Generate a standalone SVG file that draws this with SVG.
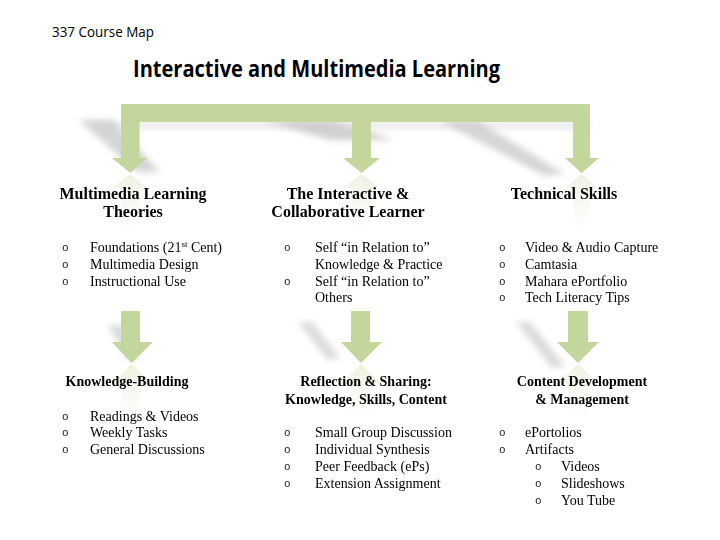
<svg xmlns="http://www.w3.org/2000/svg" width="720" height="540" viewBox="0 0 720 540">
<defs>
<style>
.bg{fill:#ffffff}
.ttl{font-family:"Open Sans","Liberation Sans",sans-serif;fill:#000}
.h{font-family:"Liberation Serif","Times New Roman",serif;font-weight:bold;fill:#000}
.b{font-family:"Liberation Serif","Times New Roman",serif;font-size:14px;fill:#000}
.o{font-family:"Liberation Mono","Courier New",monospace;font-size:11px;fill:#222}
.arrow{fill:#c3d69b}
.shadow{fill:#8c8c8c;filter:url(#blur)}
.refl{fill:url(#reflGrad)}
</style>
<filter id="blur" x="-30%" y="-30%" width="160%" height="160%">
<feGaussianBlur stdDeviation="3"/>
</filter>
<linearGradient id="reflGrad" x1="0" y1="0" x2="0" y2="1">
<stop offset="0" stop-color="#c3d69b" stop-opacity="0.3"/>
<stop offset="1" stop-color="#c3d69b" stop-opacity="0"/>
</linearGradient>
</defs>
<rect class="bg" x="0" y="0" width="720" height="540"/>

<g id="title">
<text class="ttl" x="52" y="37" font-size="15" textLength="102" lengthAdjust="spacingAndGlyphs">337 Course Map</text>
<text class="ttl" x="133" y="77" font-size="23" font-weight="bold" textLength="367" lengthAdjust="spacingAndGlyphs">Interactive and Multimedia Learning</text>
</g>

<g id="connectors">
<g id="shadows" opacity="0.45">
<polygon class="shadow" points="90,122 590,122 590,129 100,129" opacity="0.4"/>
<polygon class="shadow" points="78,120 112,120 160,172 138,172" opacity="0.8"/>
<polygon class="shadow" points="262,120 330,120 395,140 330,140" opacity="0.9"/>
<polygon class="shadow" points="440,121 478,121 565,174 545,176" opacity="0.8"/>
<polygon class="shadow" points="108,325 122,325 140,358 128,360" opacity="0.7"/>
<polygon class="shadow" points="298,322 312,322 340,358 328,360" opacity="0.7"/>
<polygon class="shadow" points="516,322 530,322 565,366 552,368" opacity="0.7"/>
</g>
<g id="reflections">
<path class="refl" d="M112,188 L130.5,174 L147,188 L139.5,188 L139.5,228 L121,228 L121,188 Z"/>
<path class="refl" d="M343,188 L361.5,174 L380,188 L371,188 L371,228 L352,228 L352,188 Z"/>
<path class="refl" d="M565,188 L581.5,174 L599,188 L590,188 L590,228 L573,228 L573,188 Z"/>
<path class="refl" d="M112,384 L131.5,364 L153,384 L140,384 L140,418 L121,418 L121,384 Z"/>
<path class="refl" d="M341,384 L361,364 L382,384 L370,384 L370,418 L351,418 L351,384 Z"/>
<path class="refl" d="M557,384 L578,364 L599,384 L588,384 L588,418 L568,418 L568,384 Z"/>
</g>
<path id="main-arrow" class="arrow" d="M121,104 L590,104 L590,158 L599,158 L581.5,173 L565,158 L573,158 L573,122 L371,122 L371,158 L380,158 L361.5,173 L343,158 L352,158 L352,122 L139.5,122 L139.5,158 L147,158 L130.5,173 L112,158 L121,158 Z"/>
<path id="arrow-left" class="arrow" d="M121,311 L140,311 L140,342 L153,342 L131.5,363 L112,342 L121,342 Z"/>
<path id="arrow-mid" class="arrow" d="M351,311 L370,311 L370,342 L382,342 L361,363 L341,342 L351,342 Z"/>
<path id="arrow-right" class="arrow" d="M568,311 L588,311 L588,342 L599,342 L578,363 L557,342 L568,342 Z"/>
</g>

<g id="node-theories">
<text class="h" x="133" y="199" font-size="16" text-anchor="middle">Multimedia Learning</text>
<text class="h" x="133" y="217" font-size="16" text-anchor="middle">Theories</text>
<text class="o" x="62" y="251">o</text>
<text class="b" x="90" y="252">Foundations (21<tspan font-size="9" dy="-5">st</tspan><tspan dy="5"> Cent)</tspan></text>
<text class="o" x="62" y="268">o</text>
<text class="b" x="90" y="269">Multimedia Design</text>
<text class="o" x="62" y="285">o</text>
<text class="b" x="90" y="286">Instructional Use</text>
</g>

<g id="node-learner">
<text class="h" x="348" y="199" font-size="16" text-anchor="middle">The Interactive &amp;</text>
<text class="h" x="348" y="217" font-size="16" text-anchor="middle">Collaborative Learner</text>
<text class="o" x="284" y="251">o</text>
<text class="b" x="315" y="252">Self “in Relation to”</text>
<text class="b" x="315" y="269">Knowledge &amp; Practice</text>
<text class="o" x="284" y="285">o</text>
<text class="b" x="315" y="286">Self “in Relation to”</text>
<text class="b" x="315" y="302">Others</text>
</g>

<g id="node-technical">
<text class="h" x="564" y="199" font-size="16" text-anchor="middle">Technical Skills</text>
<text class="o" x="499" y="251">o</text>
<text class="b" x="525" y="252">Video &amp; Audio Capture</text>
<text class="o" x="499" y="268">o</text>
<text class="b" x="525" y="269">Camtasia</text>
<text class="o" x="499" y="285">o</text>
<text class="b" x="525" y="286">Mahara ePortfolio</text>
<text class="o" x="499" y="301">o</text>
<text class="b" x="525" y="302">Tech Literacy Tips</text>
</g>

<g id="node-knowledge">
<text class="h" x="127" y="386" font-size="14" text-anchor="middle">Knowledge-Building</text>
<text class="o" x="62" y="420">o</text>
<text class="b" x="90" y="421">Readings &amp; Videos</text>
<text class="o" x="62" y="436">o</text>
<text class="b" x="90" y="437">Weekly Tasks</text>
<text class="o" x="62" y="453">o</text>
<text class="b" x="90" y="454">General Discussions</text>
</g>

<g id="node-reflection">
<text class="h" x="366" y="386" font-size="14" text-anchor="middle">Reflection &amp; Sharing:</text>
<text class="h" x="366" y="404" font-size="14" text-anchor="middle">Knowledge, Skills, Content</text>
<text class="o" x="284" y="436">o</text>
<text class="b" x="315" y="437">Small Group Discussion</text>
<text class="o" x="284" y="453">o</text>
<text class="b" x="315" y="454">Individual Synthesis</text>
<text class="o" x="284" y="470">o</text>
<text class="b" x="315" y="471">Peer Feedback (ePs)</text>
<text class="o" x="284" y="487">o</text>
<text class="b" x="315" y="488">Extension Assignment</text>
</g>

<g id="node-content">
<text class="h" x="582" y="386" font-size="14" text-anchor="middle">Content Development</text>
<text class="h" x="582" y="404" font-size="14" text-anchor="middle">&amp; Management</text>
<text class="o" x="499" y="436">o</text>
<text class="b" x="525" y="437">ePortolios</text>
<text class="o" x="499" y="453">o</text>
<text class="b" x="525" y="454">Artifacts</text>
<text class="o" x="535" y="470">o</text>
<text class="b" x="561" y="471">Videos</text>
<text class="o" x="535" y="487">o</text>
<text class="b" x="561" y="488">Slideshows</text>
<text class="o" x="535" y="504">o</text>
<text class="b" x="561" y="505">You Tube</text>
</g>
</svg>
